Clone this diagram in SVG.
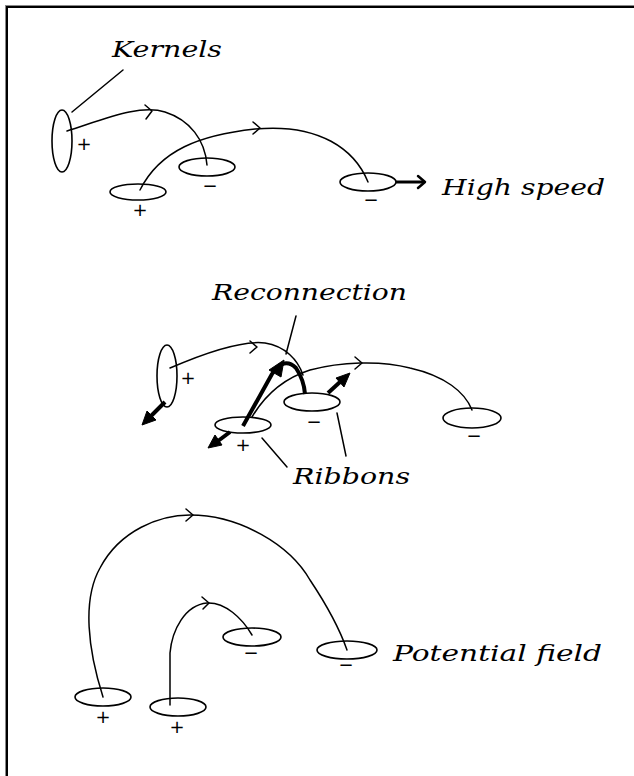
<svg xmlns="http://www.w3.org/2000/svg" width="634" height="776" viewBox="0 0 634 776">
<style>
.bg{fill:#fff}
.ln{fill:none;stroke:#000;stroke-width:1.5;stroke-linecap:round;stroke-linejoin:round}
.thk{fill:none;stroke:#000;stroke-width:4;stroke-linecap:butt;stroke-linejoin:round}
.ell{fill:none;stroke:#000;stroke-width:1.6}
.head{fill:#000;stroke:#000;stroke-width:1}
.lbl{font-family:"DejaVu Serif","Liberation Serif",serif;font-style:italic;font-size:23px;fill:#000}
.sg{font-family:"DejaVu Sans","Liberation Sans",sans-serif;font-size:18px;fill:#000;text-anchor:middle}
</style>
<rect class="bg" x="0" y="0" width="634" height="776"/>
<g id="frame">
<line x1="5" y1="5.5" x2="634" y2="5.5" stroke="#888" stroke-width="1"/>
<line x1="5.5" y1="5" x2="5.5" y2="776" stroke="#888" stroke-width="1"/>
<line x1="6" y1="7" x2="634" y2="7" stroke="#000" stroke-width="2"/>
<line x1="7" y1="6" x2="7" y2="776" stroke="#000" stroke-width="2"/>
</g>
<g id="connectors">
<!-- top -->
<path class="ln" d="M67,131 C105,119 140,104 165,112 C190,120 205,140 207,165"/>
<polyline class="ln" points="145,105 152,111 146,119"/>
<path class="ln" d="M140,190 C160,150 200,135 255,129 C320,123 355,150 368,182"/>
<polyline class="ln" points="253,122 260,128 253,134"/>
<line class="ln" x1="72" y1="112" x2="123" y2="70"/>
<line x1="396" y1="182" x2="424" y2="182" stroke="#000" stroke-width="3"/>
<polyline class="ln" style="stroke-width:2.5" points="418,176 425,182 418,188"/>
<!-- middle -->
<path class="ln" d="M170,368 C200,355 240,340 265,343 C285,346 298,360 303,375"/>
<polyline class="ln" points="250,341 257,347 250,353"/>
<line class="ln" x1="296" y1="316" x2="286" y2="354"/>
<path class="thk" d="M243,426 L272,374 Q284,356 296,368 Q304,380 305,394"/>
<polygon class="head" points="284,360 281,377 269,370"/>
<path class="ln" d="M252,417 C265,395 285,378 310,370 C340,362 380,360 410,368 C445,376 465,392 472,410"/>
<polyline class="ln" points="355,357 362,363 355,369"/>
<line x1="165" y1="402" x2="151" y2="416" stroke="#000" stroke-width="4"/>
<polygon class="head" points="142,425 147,411 156,420"/>
<line x1="230" y1="432" x2="218" y2="441" stroke="#000" stroke-width="4"/>
<polygon class="head" points="208,448 215,435 222,445"/>
<line x1="328" y1="393" x2="340" y2="382" stroke="#000" stroke-width="4"/>
<polygon class="head" points="350,373 344,387 336,378"/>
<line class="ln" x1="262" y1="438" x2="287" y2="467"/>
<line class="ln" x1="337" y1="413" x2="346" y2="456"/>
<!-- bottom -->
<path class="ln" d="M103,697 C88,650 82,600 100,568 C120,530 160,515 190,515 C240,515 290,545 310,580 C330,610 340,630 347,650"/>
<polyline class="ln" points="186,509 193,515 186,521"/>
<path class="ln" d="M170,705 L170,653 C172,630 185,605 207,603 C225,602 242,618 252,635"/>
<polyline class="ln" points="202,597 209,603 203,609"/>
</g>
<g id="kernelA"><ellipse class="ell" cx="62" cy="141" rx="10" ry="31"/><text class="sg" x="84" y="150">+</text></g>
<g id="kernelB"><ellipse class="ell" cx="207" cy="167" rx="28" ry="9"/><text class="sg" x="210" y="192">−</text></g>
<g id="kernelC"><ellipse class="ell" cx="138" cy="192" rx="28" ry="8"/><text class="sg" x="140" y="216">+</text></g>
<g id="kernelD"><ellipse class="ell" cx="368" cy="182" rx="28" ry="9"/><text class="sg" x="371" y="206">−</text></g>
<g id="kernelE"><ellipse class="ell" cx="167" cy="376" rx="10" ry="31"/><text class="sg" x="188" y="384">+</text></g>
<g id="kernelF"><ellipse class="ell" cx="312" cy="402" rx="28" ry="9"/><text class="sg" x="314" y="428">−</text></g>
<g id="kernelG"><ellipse class="ell" cx="243" cy="425" rx="28" ry="8"/><text class="sg" x="243" y="451">+</text></g>
<g id="kernelH"><ellipse class="ell" cx="472" cy="418" rx="29" ry="10"/><text class="sg" x="474" y="442">−</text></g>
<g id="kernelI"><ellipse class="ell" cx="103" cy="697" rx="28" ry="9"/><text class="sg" x="103" y="723">+</text></g>
<g id="kernelK"><ellipse class="ell" cx="178" cy="707" rx="28" ry="9"/><text class="sg" x="177" y="733">+</text></g>
<g id="kernelL"><ellipse class="ell" cx="252" cy="637" rx="29" ry="9"/><text class="sg" x="251" y="659">−</text></g>
<g id="kernelJ"><ellipse class="ell" cx="347" cy="650" rx="30" ry="9"/><text class="sg" x="346" y="671">−</text></g>
<g id="labels">
<text class="lbl" x="112" y="57" textLength="110" lengthAdjust="spacingAndGlyphs">Kernels</text>
<text class="lbl" x="442" y="195" textLength="163" lengthAdjust="spacingAndGlyphs">High speed</text>
<text class="lbl" x="212" y="300" textLength="195" lengthAdjust="spacingAndGlyphs">Reconnection</text>
<text class="lbl" x="293" y="484" textLength="117" lengthAdjust="spacingAndGlyphs">Ribbons</text>
<text class="lbl" x="393" y="661" textLength="209" lengthAdjust="spacingAndGlyphs">Potential field</text>
</g>
</svg>
